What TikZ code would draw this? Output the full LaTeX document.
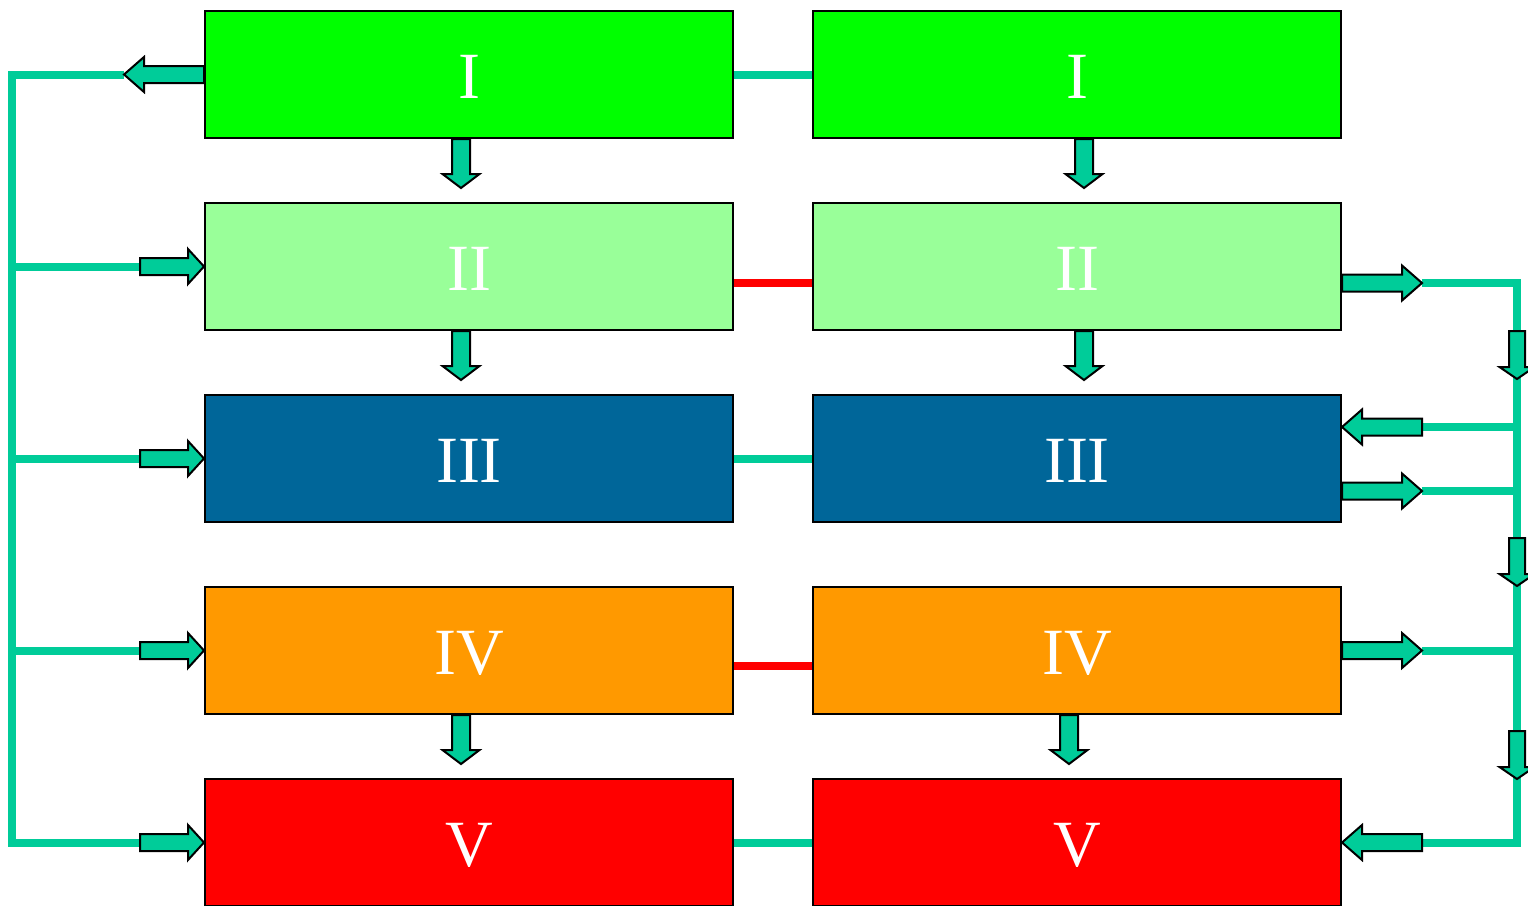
\documentclass[tikz,border=0pt]{standalone}
\usepackage{fontspec}
\setmainfont{Liberation Serif}
\usetikzlibrary{calc}
\definecolor{cI}{HTML}{00FF00}
\definecolor{cII}{HTML}{99FF99}
\definecolor{cIII}{HTML}{006699}
\definecolor{cIV}{HTML}{FF9900}
\definecolor{cV}{HTML}{FF0000}
\definecolor{tealc}{HTML}{00CC99}
\newcommand\lowtxt[1]{\raisebox{-1.25pt}[\height][0pt]{#1}}
\tikzset{
  box/.style={draw=black, line width=1pt, minimum width=264pt, minimum height=63.5pt,
    inner sep=0pt, text=white, font=\fontsize{33}{33}\selectfont},
  link/.style={line width=4pt, draw=tealc},
  redlink/.style={line width=4pt, draw=cV},
  bus/.style={line width=4pt, draw=tealc, line join=miter},
  barrow/.style={draw=black, fill=tealc, line width=1pt, line join=miter},
}
% horizontal block arrow: #1 tail, #2 direction (+1/-1), #3 length, #4 head length
\newcommand\harr[4]{\draw[barrow] #1 ++(0,-8.5) -- ++({#2*(#3-#4)},0) -- ++(0,-9)
  -- ++({#2*#4},17.5) -- ++({-#2*#4},17.5) -- ++(0,-9) -- ++({-#2*(#3-#4)},0) -- cycle;}
% downward block arrow: #1 tail, #2 length, #3 head length, #4 shaft half, #5 head half
\newcommand\varr[5]{\draw[barrow] #1 ++(-#4,0) -- ++(0,{#2-#3}) -- ++({-(#5-#4)},0)
  -- ++(#5,#3) -- ++(#5,-#3) -- ++({-(#5-#4)},0) -- ++(0,{-(#2-#3)}) -- cycle;}
\begin{document}
\begin{tikzpicture}[x=0.5pt, y=-0.5pt]
\useasboundingbox (0,0) rectangle (1528,906);
% boxes
\node[box, fill=cI]   (L1) at (469,74.5)  {\lowtxt{I}};
\node[box, fill=cI]   (R1) at (1077,74.5) {\lowtxt{I}};
\node[box, fill=cII]  (L2) at (469,266.5) {\lowtxt{II}};
\node[box, fill=cII]  (R2) at (1077,266.5) {\lowtxt{II}};
\node[box, fill=cIII] (L3) at (469,458.5) {\lowtxt{III}};
\node[box, fill=cIII] (R3) at (1077,458.5) {\lowtxt{III}};
\node[box, fill=cIV]  (L4) at (469,650.5) {\lowtxt{IV}};
\node[box, fill=cIV]  (R4) at (1077,650.5) {\lowtxt{IV}};
\node[box, fill=cV]   (L5) at (469,842.5) {\lowtxt{V}};
\node[box, fill=cV]   (R5) at (1077,842.5) {\lowtxt{V}};
% links between columns
\draw[link]    (L1.east) -- (R1.west);
\draw[redlink] ($(L2.east)+(0,16.5)$) -- ($(R2.west)+(0,16.5)$);
\draw[link]    (L3.east) -- (R3.west);
\draw[redlink] ($(L4.east)+(0,15.5)$) -- ($(R4.west)+(0,15.5)$);
\draw[link]    (L5.east) -- (R5.west);
% left bus
\coordinate (lbt) at (12,74.5);
\coordinate (lbb) at (12,842.5);
\draw[bus] ($(L1.west)+(-80,0)$) -- (lbt) -- (lbb) -- ($(L5.west)+(-64,0)$);
\foreach \r in {2,3,4}{
  \draw[bus] (lbt |- L\r.west) -- ($(L\r.west)+(-64,0)$);
}
% right bus
\coordinate (rbt) at (1517,283);
\coordinate (rbb) at (1517,842.5);
\draw[bus] ($(R2.east)+(80,16.5)$) -- (rbt) -- (rbb) -- ($(R5.east)+(80,0)$);
\draw[bus] ($(R3.east)+(80,-31.5)$) -- (rbt |- {$(R3.east)+(0,-31.5)$});
\draw[bus] ($(R3.east)+(80,32.5)$) -- (rbt |- {$(R3.east)+(0,32.5)$});
\draw[bus] ($(R4.east)+(80,0)$) -- (rbt |- R4.east);
% vertical arrows between rows
\varr{($(L1.south)+(-8,0)$)}{49}{14}{9}{18.5}
\varr{($(L2.south)+(-8,0)$)}{49}{14}{9}{18.5}
\varr{($(L4.south)+(-8,0)$)}{49}{14}{9}{18.5}
\varr{($(R1.south)+(7,0)$)}{49}{14}{9}{18.5}
\varr{($(R2.south)+(7,0)$)}{49}{14}{9}{18.5}
\varr{($(R4.south)+(-8,0)$)}{49}{14}{9}{18.5}
% arrows on the right bus
\varr{(1517,331)}{48}{12}{8}{17.5}
\varr{(1517,538)}{48}{12}{8}{17.5}
\varr{(1517,731)}{48}{12}{8}{17.5}
% horizontal arrows, left side
\harr{(L1.west)}{-1}{80}{20}
\foreach \r in {2,3,4,5}{
  \harr{($(L\r.west)+(-64,0)$)}{1}{64}{16}
}
% horizontal arrows, right side
\harr{($(R2.east)+(0,16.5)$)}{1}{80}{20}
\harr{($(R3.east)+(80,-31.5)$)}{-1}{80}{20}
\harr{($(R3.east)+(0,32.5)$)}{1}{80}{20}
\harr{(R4.east)}{1}{80}{20}
\harr{($(R5.east)+(80,0)$)}{-1}{80}{20}
\end{tikzpicture}
\end{document}
